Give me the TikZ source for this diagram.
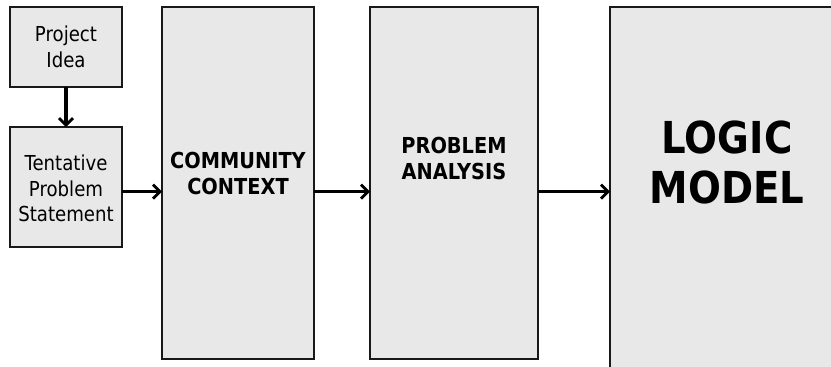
\documentclass[tikz,border=0pt]{standalone}
\usepackage{fontspec}
\setmainfont{DejaVu Sans}[FakeStretch=0.88]
\usetikzlibrary{arrows.meta}
\definecolor{boxfill}{HTML}{E8E8E8}
\begin{document}
\begin{tikzpicture}[x=1pt,y=-1pt,
  box/.style={draw=black!90, line width=1.2pt, fill=boxfill, inner sep=0pt, outer sep=0pt},
  txt/.style={inner sep=0pt, align=center, font=\fontsize{20.6}{25.5}\selectfont},
  btxt/.style={txt, font=\fontsize{22}{26}\selectfont\bfseries},
  big/.style={inner sep=0pt, align=center, font=\fontsize{44}{50}\selectfont\bfseries},
  arr/.style={line width=3.2pt, -{Straight Barb[length=7pt,width=14pt,line width=2.8pt]}}]
\useasboundingbox (0,0) rectangle (831,367);
% boxes
\node[box, minimum width=112pt, minimum height=80pt] (pi) at (66,47) {};
\node[box, minimum width=112pt, minimum height=120pt] (tps) at (66,187) {};
\node[box, minimum width=152pt, minimum height=352pt] (cc) at (238,183) {};
\node[box, minimum width=168pt, minimum height=352pt] (pa) at (454,183) {};
\node[box, minimum width=240pt, minimum height=380pt] (lm) at (730,197) {};
% texts
\node[txt] (pit) at (66,47) {Project\\Idea};
\node[txt] (tpst) at (66,188.5) {Tentative\\Problem\\Statement};
\node[btxt] (cct) at (238,173.5) {COMMUNITY\\CONTEXT};
\node[btxt] (pat) at (454,158.3) {PROBLEM\\ANALYSIS};
\node[big] (lmt) at (727,162.5) {LOGIC\\MODEL};
% arrows
\coordinate (ay) at (0,191.7);
\draw[arr] (pi.south) -- (tps.north);
\draw[arr] (tps.east |- ay) -- (cc.west |- ay);
\draw[arr] (cc.east |- ay) -- (pa.west |- ay);
\draw[arr] (pa.east |- ay) -- (lm.west |- ay);
\end{tikzpicture}
\end{document}
